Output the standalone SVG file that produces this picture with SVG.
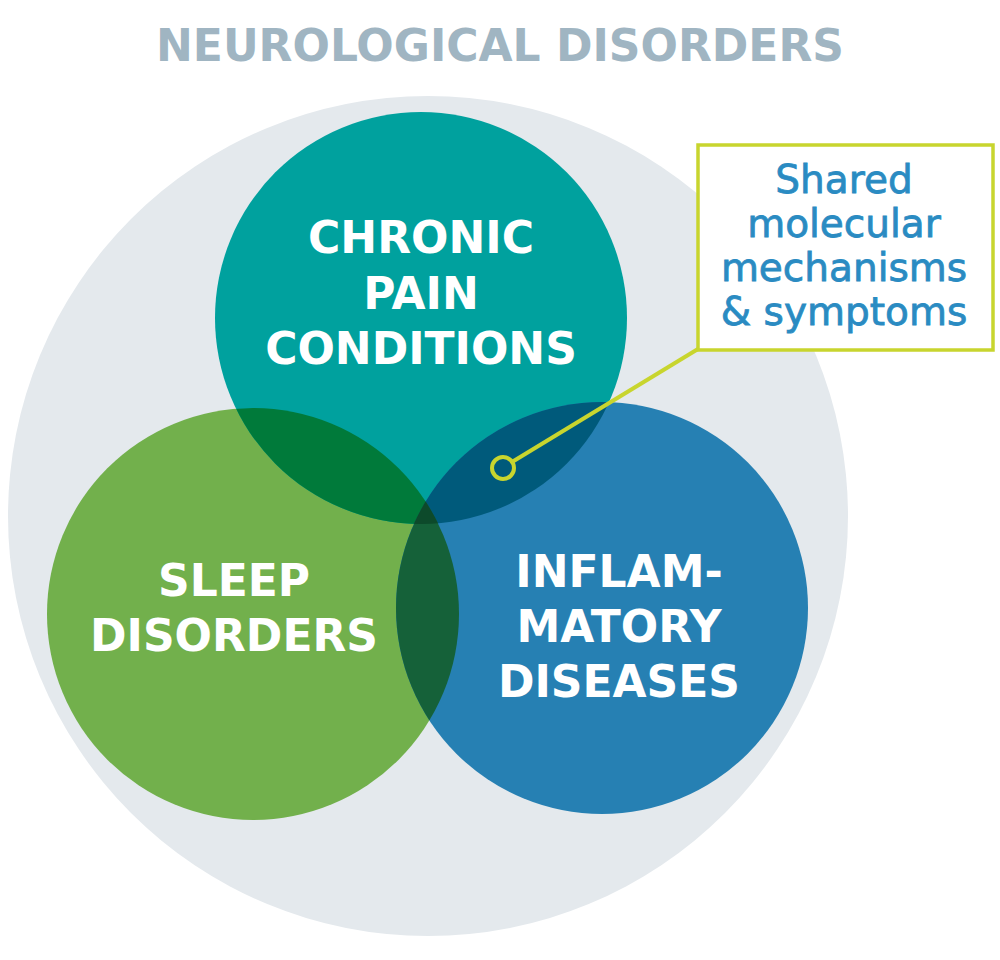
<svg xmlns="http://www.w3.org/2000/svg" width="1000" height="960" viewBox="0 0 1000 960">
<style>
.lbl{font-family:"DejaVu Sans","Liberation Sans",sans-serif;font-weight:bold;font-size:44px;fill:#ffffff;text-anchor:middle}
.title{font-family:"DejaVu Sans","Liberation Sans",sans-serif;font-weight:bold;font-size:44px;fill:#a0b5c2;text-anchor:middle}
.call{font-family:"DejaVu Sans","Liberation Sans",sans-serif;font-size:39px;fill:#2a8bc2;stroke:#2a8bc2;stroke-width:0.8;text-anchor:middle}
.lead{stroke:#c8d52e;stroke-width:4;fill:none}
</style>
<defs>
<clipPath id="cTeal"><circle cx="421" cy="318" r="206"/></clipPath>
<clipPath id="cGreen"><circle cx="253" cy="614" r="206"/></clipPath>
<clipPath id="cBlue"><circle cx="602" cy="608" r="206"/></clipPath>
</defs>
<rect width="1000" height="960" fill="#ffffff"/>
<text class="title" x="500" y="61">NEUROLOGICAL DISORDERS</text>
<g id="neurological">
<circle cx="428" cy="516" r="420" fill="#e4e9ed"/>
</g>
<g id="sleep">
<circle cx="253" cy="614" r="206" fill="#72b04c"/>
</g>
<g id="chronic">
<circle cx="421" cy="318" r="206" fill="#00a19e"/>
</g>
<g id="inflam">
<circle cx="602" cy="608" r="206" fill="#2680b3"/>
</g>
<g id="overlaps">
<circle cx="253" cy="614" r="206" fill="#007a3a" clip-path="url(#cTeal)"/>
<circle cx="602" cy="608" r="206" fill="#005a7b" clip-path="url(#cTeal)"/>
<circle cx="602" cy="608" r="206" fill="#156139" clip-path="url(#cGreen)"/>
<g clip-path="url(#cTeal)"><circle cx="602" cy="608" r="206" fill="#0d4a2b" clip-path="url(#cGreen)"/></g>
</g>
<g id="labels">
<text class="lbl" x="421" y="253">CHRONIC</text>
<text class="lbl" x="421" y="309">PAIN</text>
<text class="lbl" x="421" y="364">CONDITIONS</text>
<text class="lbl" x="234" y="596">SLEEP</text>
<text class="lbl" x="234" y="651">DISORDERS</text>
<text class="lbl" x="619" y="587">INFLAM-</text>
<text class="lbl" x="619" y="642">MATORY</text>
<text class="lbl" x="619" y="697">DISEASES</text>
</g>
<g id="connectors">
<line class="lead" x1="512" y1="462" x2="698" y2="349"/>
<circle class="lead" cx="503" cy="468" r="11"/>
</g>
<g id="callout">
<rect x="698" y="145" width="295" height="205" fill="#ffffff" stroke="#c8d52e" stroke-width="3.5"/>
<text class="call" x="844" y="193">Shared</text>
<text class="call" x="844" y="237">molecular</text>
<text class="call" x="844" y="281">mechanisms</text>
<text class="call" x="844" y="325">&amp; symptoms</text>
</g>
</svg>
